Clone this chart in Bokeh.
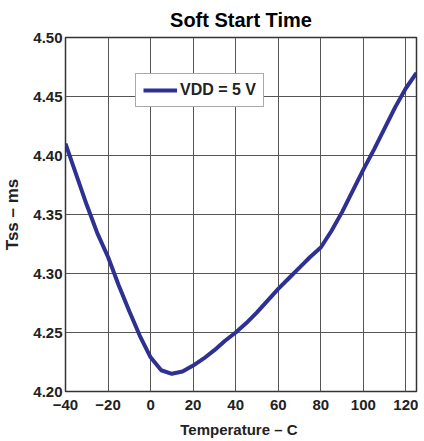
from bokeh.plotting import figure
from bokeh.models import Range1d, FixedTicker, NumeralTickFormatter, Legend, LegendItem
from bokeh.embed import file_html
from bokeh.resources import INLINE

# Data
temperature = [-40, -35, -30, -25, -20, -15, -10, -5, 0, 5, 10, 15, 20, 25, 30, 35,
               40, 45, 50, 55, 60, 65, 70, 75, 80, 85, 90, 95, 100, 105, 110, 115,
               120, 125]
tss_vdd5 = [4.410, 4.384, 4.358, 4.334, 4.314, 4.290, 4.268, 4.247, 4.229, 4.218,
            4.215, 4.217, 4.222, 4.228, 4.235, 4.243, 4.250, 4.258, 4.267, 4.277,
            4.287, 4.296, 4.305, 4.314, 4.322, 4.336, 4.352, 4.370, 4.388, 4.405,
            4.423, 4.441, 4.457, 4.470]
x_ticks = [-40, -20, 0, 20, 40, 60, 80, 100, 120]
y_ticks = [4.20, 4.25, 4.30, 4.35, 4.40, 4.45, 4.50]
series_label = "VDD = 5 V"

FONT = "Liberation Sans"
LINE_COLOR = "#2E3192"
GRID_COLOR = "#555555"

p = figure(frame_width=351, frame_height=354,
           x_range=Range1d(-40, 125), y_range=Range1d(4.20, 4.50),
           output_backend="svg", toolbar_location=None,
           min_border_left=55, min_border_right=2,
           min_border_top=29, min_border_bottom=40)

p.title.text = "Soft Start Time"
p.title.text_font = FONT
p.title.text_font_size = "20px"
p.title.text_font_style = "bold"
p.title.align = "center"
p.title.text_color = "#000000"
p.title.standoff = 13

r = p.line(temperature, tss_vdd5, line_color=LINE_COLOR, line_width=4)

# Axes
p.xaxis.ticker = FixedTicker(ticks=x_ticks)
p.yaxis.ticker = FixedTicker(ticks=y_ticks)
p.yaxis.formatter = NumeralTickFormatter(format="0.00")
p.xaxis.axis_label = "Temperature \u2013  C"
p.yaxis.axis_label = "Tss \u2013 ms"

for ax in (p.xaxis[0], p.yaxis[0]):
    ax.major_label_text_font = FONT
    ax.major_label_text_font_style = "bold"
    ax.major_label_text_font_size = "15px"
    ax.major_label_text_color = "#222222"
    ax.axis_label_text_font = FONT
    ax.axis_label_text_font_style = "bold"
    ax.axis_label_text_color = "#222222"
    ax.major_tick_line_color = None
    ax.minor_tick_line_color = None
    ax.major_tick_out = 0
    ax.major_tick_in = 0
    ax.minor_tick_out = 0
    ax.minor_tick_in = 0
    ax.axis_line_color = None

p.xaxis.major_label_standoff = 8
p.xaxis.axis_label_standoff = 8
p.xaxis.axis_label_text_font_size = "15px"
p.yaxis.major_label_standoff = 3
p.yaxis.axis_label_standoff = 8
p.yaxis.axis_label_text_font_size = "17px"

p.xgrid.grid_line_color = GRID_COLOR
p.ygrid.grid_line_color = GRID_COLOR
p.xgrid.grid_line_width = 1
p.ygrid.grid_line_width = 1

p.outline_line_color = "#333333"
p.outline_line_width = 1.5

legend = Legend(items=[LegendItem(label=series_label, renderers=[r])],
                location=(70, 284))
legend.label_text_font = FONT
legend.label_text_font_style = "bold"
legend.label_text_font_size = "16px"
legend.label_text_color = "#222222"
legend.glyph_width = 34
legend.glyph_height = 18
legend.label_height = 18
legend.label_standoff = 3
legend.padding = 7
legend.margin = 0
legend.border_line_color = "#555555"
legend.border_line_width = 1
legend.background_fill_color = "white"
legend.background_fill_alpha = 1.0
p.add_layout(legend, "center")

open("out.html", "w").write(file_html(p, INLINE))
